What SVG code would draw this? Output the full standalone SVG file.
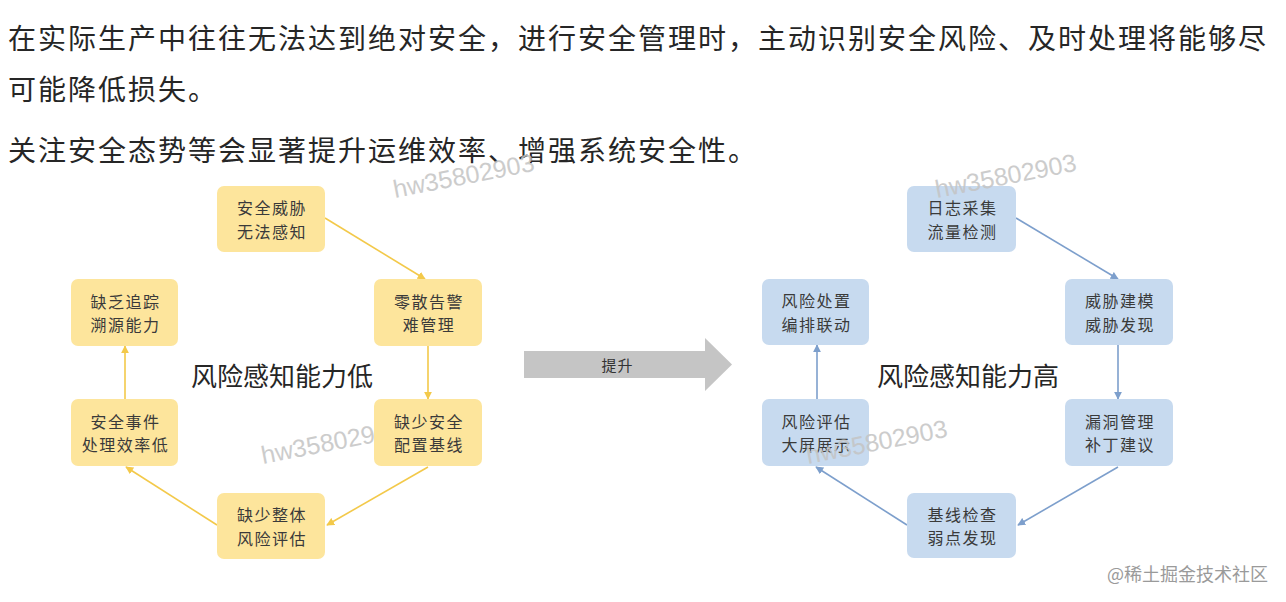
<svg xmlns="http://www.w3.org/2000/svg" width="1286" height="602" viewBox="0 0 1286 602">
<style>
.head{font-family:"Noto Sans CJK SC","Noto Sans",sans-serif;font-size:28px;fill:#262626;letter-spacing:2px;dominant-baseline:central}
.bt{font-family:"Noto Sans CJK SC","Noto Sans",sans-serif;font-size:16px;letter-spacing:1.5px;fill:#3a3a3a;text-anchor:middle;dominant-baseline:central}
.big{font-family:"Noto Sans CJK SC","Noto Sans",sans-serif;font-size:26px;fill:#262626;dominant-baseline:central}
.yb{fill:#fde59c}
.bb{fill:#c7daef}
.ya{stroke:#f3c94a;stroke-width:1.6;fill:none;marker-end:url(#ah-y)}
.ba{stroke:#7d9fcc;stroke-width:1.6;fill:none;marker-end:url(#ah-b)}
.wm{font-family:"Liberation Sans",Arial,sans-serif;font-size:25px;fill:#c4c4c4;opacity:0.85}
</style>
<defs>
<marker id="ah-y" viewBox="0 0 10 10" refX="9" refY="5" markerWidth="5" markerHeight="5" orient="auto" markerUnits="strokeWidth"><path d="M0,0 L10,5 L0,10 Z" fill="#f3c94a"/></marker>
<marker id="ah-b" viewBox="0 0 10 10" refX="9" refY="5" markerWidth="5" markerHeight="5" orient="auto" markerUnits="strokeWidth"><path d="M0,0 L10,5 L0,10 Z" fill="#7d9fcc"/></marker>
</defs>
<rect width="1286" height="602" fill="#ffffff"/>
<g id="header">
<text class="head" x="8" y="37">在实际生产中往往无法达到绝对安全，进行安全管理时，主动识别安全风险、及时处理将能够尽</text>
<text class="head" x="8" y="88">可能降低损失。</text>
<text class="head" x="8" y="149">关注安全态势等会显著提升运维效率、增强系统安全性。</text>
</g>
<text class="wm" x="263" y="464" transform="rotate(-11 263 464)">hw35802903</text>
<g id="connectors">
<line class="ya" x1="325" y1="218" x2="425" y2="279"/>
<line class="ya" x1="428" y1="346" x2="428" y2="399"/>
<line class="ya" x1="428" y1="467" x2="327" y2="525"/>
<line class="ya" x1="217" y1="525" x2="126" y2="467"/>
<line class="ya" x1="125" y1="399" x2="125" y2="346"/>
<line class="ba" x1="1016" y1="218" x2="1118" y2="279"/>
<line class="ba" x1="1118" y1="345" x2="1118" y2="399"/>
<line class="ba" x1="1118" y1="467" x2="1018" y2="525"/>
<line class="ba" x1="907" y1="525" x2="816" y2="467"/>
<line class="ba" x1="817" y1="399" x2="817" y2="345"/>
</g>
<g id="n-l1"><rect class="yb" x="217" y="186" width="108" height="66" rx="7"/><text class="bt"><tspan x="272" y="207.3">安全威胁</tspan><tspan x="272" y="230.7">无法感知</tspan></text></g>
<g id="n-l2"><rect class="yb" x="374" y="279" width="108" height="67" rx="7"/><text class="bt"><tspan x="429" y="300.8">零散告警</tspan><tspan x="429" y="324.2">难管理</tspan></text></g>
<g id="n-l3"><rect class="yb" x="374" y="399" width="108" height="67" rx="7"/><text class="bt"><tspan x="429" y="420.8">缺少安全</tspan><tspan x="429" y="444.2">配置基线</tspan></text></g>
<g id="n-l4"><rect class="yb" x="217" y="493" width="108" height="66" rx="7"/><text class="bt"><tspan x="272" y="514.3">缺少整体</tspan><tspan x="272" y="537.7">风险评估</tspan></text></g>
<g id="n-l5"><rect class="yb" x="71" y="399" width="107" height="67" rx="7"/><text class="bt"><tspan x="125.5" y="420.8">安全事件</tspan><tspan x="125.5" y="444.2">处理效率低</tspan></text></g>
<g id="n-l6"><rect class="yb" x="71" y="279" width="107" height="67" rx="7"/><text class="bt"><tspan x="125.5" y="300.8">缺乏追踪</tspan><tspan x="125.5" y="324.2">溯源能力</tspan></text></g>
<text class="big" x="191" y="374">风险感知能力低</text>
<g id="lift">
<path d="M524,351 L705,351 L705,338 L732,364.5 L705,391 L705,378 L524,378 Z" fill="#c5c5c5"/>
<text class="bt" x="617.5" y="364.5" style="font-size:15px;letter-spacing:1px;fill:#333">提升</text>
</g>
<g id="n-r1"><rect class="bb" x="907" y="186" width="109" height="66" rx="7"/><text class="bt"><tspan x="962.5" y="207.3">日志采集</tspan><tspan x="962.5" y="230.7">流量检测</tspan></text></g>
<g id="n-r2"><rect class="bb" x="1065" y="279" width="108" height="66" rx="7"/><text class="bt"><tspan x="1120" y="300.3">威胁建模</tspan><tspan x="1120" y="323.7">威胁发现</tspan></text></g>
<g id="n-r3"><rect class="bb" x="1065" y="399" width="108" height="67" rx="7"/><text class="bt"><tspan x="1120" y="420.8">漏洞管理</tspan><tspan x="1120" y="444.2">补丁建议</tspan></text></g>
<g id="n-r4"><rect class="bb" x="907" y="493" width="109" height="65" rx="7"/><text class="bt"><tspan x="962.5" y="513.8">基线检查</tspan><tspan x="962.5" y="537.2">弱点发现</tspan></text></g>
<g id="n-r5"><rect class="bb" x="762" y="399" width="107" height="67" rx="7"/><text class="bt"><tspan x="816.5" y="420.8">风险评估</tspan><tspan x="816.5" y="444.2">大屏展示</tspan></text></g>
<g id="n-r6"><rect class="bb" x="762" y="279" width="107" height="66" rx="7"/><text class="bt"><tspan x="816.5" y="300.3">风险处置</tspan><tspan x="816.5" y="323.7">编排联动</tspan></text></g>
<text class="big" x="877" y="374">风险感知能力高</text>
<text class="wm" x="395" y="198" transform="rotate(-11 395 198)">hw35802903</text>
<text class="wm" x="937" y="198" transform="rotate(-11 937 198)">hw35802903</text>
<text class="wm" x="808" y="464" transform="rotate(-11 808 464)">hw35802903</text>
<text x="1107" y="573" style="font-family:'Noto Sans CJK SC','Noto Sans',sans-serif;font-size:18px;fill:#9a9a9a;dominant-baseline:central">@稀土掘金技术社区</text>
</svg>
